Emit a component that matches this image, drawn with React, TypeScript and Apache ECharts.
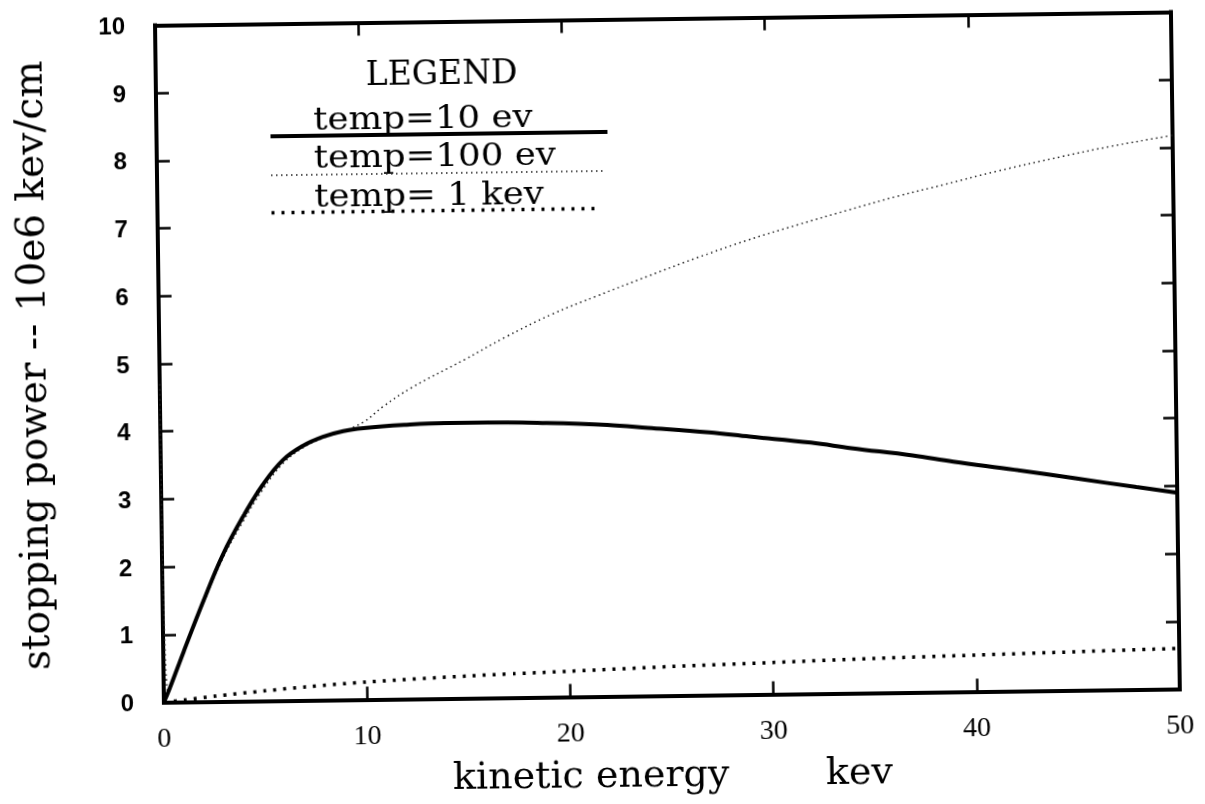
import React, { useEffect, useRef } from "react";
import * as echarts from "echarts";

// kinetic energy (kev) and stopping power (10e6 kev/cm)
const ev10X = [0, 0.25, 1, 2, 3, 4, 5, 6, 7, 8, 9, 10, 12, 14, 16, 19, 22, 24, 27, 29, 32, 34, 37, 39, 42, 45, 48, 50];
const ev10Y = [0, 0.17, 0.74, 1.48, 2.17, 2.72, 3.19, 3.55, 3.76, 3.89, 3.97, 4.01, 4.05, 4.07, 4.07, 4.05, 4.01, 3.96, 3.88, 3.81, 3.71, 3.62, 3.5, 3.4, 3.27, 3.13, 2.99, 2.9];

const ev100X = [0, 0.2, 1, 2, 3, 4, 5, 6, 7, 8, 9, 10, 11, 12.4, 15, 17, 19.3, 21.6, 24.1, 26.5, 29, 31.5, 33.9, 36.4, 38.8, 41.3, 44.6, 47, 49.6, 50];
const ev100Y = [4.7, 0.15, 0.72, 1.45, 2.12, 2.65, 3.12, 3.5, 3.73, 3.87, 3.97, 4.1, 4.33, 4.6, 5.0, 5.32, 5.65, 5.92, 6.2, 6.46, 6.71, 6.93, 7.13, 7.33, 7.5, 7.68, 7.89, 8.03, 8.16, 8.18];

const kev1X = [0, 1, 2.5, 5, 7, 10, 15, 20, 25, 30, 35, 40, 45, 50];
const kev1Y = [0, 0.03, 0.08, 0.15, 0.2, 0.26, 0.33, 0.38, 0.43, 0.47, 0.51, 0.54, 0.57, 0.6];

const legendLabels = ["temp=10 ev", "temp=100 ev", "temp= 1 kev"];
const xName = "kinetic energy        kev";
const yName = "stopping power -- 10e6 kev/cm";

const pairs = (xs: number[], ys: number[]) => xs.map((x, i) => [x, ys[i]]);

export default function App() {
  const ref = useRef<HTMLDivElement>(null);
  useEffect(() => {
    if (!ref.current) return;
    const chart = echarts.init(ref.current, undefined, { renderer: "svg" });
    const axisLine = { show: true, onZero: false, lineStyle: { color: "#000", width: 4, cap: "square" } };
    const tick = { show: true, inside: true, length: 13, lineStyle: { color: "#000", width: 2.5 } };
    const serif = "DejaVu Serif";
    const legendFont = `31.5px ${serif}`;
    chart.setOption({
      animation: false,
      backgroundColor: "#fff",
      grid: { left: 160, right: 29, top: 19.5, bottom: 107.5, containLabel: false },
      xAxis: [
        {
          type: "value", min: 0, max: 50, interval: 10, position: "bottom",
          axisLine, axisTick: tick, splitLine: { show: false },
          axisLabel: { margin: 21, fontFamily: "Liberation Serif", fontSize: 28, color: "#000" },
          name: xName, nameLocation: "middle", nameGap: 58,
          nameTextStyle: { fontFamily: serif, fontSize: 38, color: "#000" },
        },
        {
          type: "value", min: 0, max: 50, interval: 10, position: "top",
          axisLine, axisTick: tick, splitLine: { show: false }, axisLabel: { show: false },
        },
      ],
      yAxis: [
        {
          type: "value", min: 0, max: 10, interval: 1, position: "left",
          axisLine, axisTick: tick, splitLine: { show: false },
          axisLabel: { margin: 30, fontFamily: "Liberation Sans", fontWeight: "bold", fontSize: 24, color: "#000" },
          name: yName, nameLocation: "middle", nameGap: 108,
          nameTextStyle: { fontFamily: serif, fontSize: 39, color: "#000" },
        },
        {
          type: "value", min: 0, max: 10, interval: 1, position: "right",
          axisLine, axisTick: tick, splitLine: { show: false }, axisLabel: { show: false },
        },
      ],
      series: [
        {
          name: legendLabels[2], type: "line", data: pairs(kev1X, kev1Y), showSymbol: false, smooth: 0.3,
          xAxisIndex: 0, yAxisIndex: 0,
          lineStyle: { color: "#000", width: 3.5, type: [3, 7] },
        },
        {
          name: legendLabels[1], type: "line", data: pairs(ev100X, ev100Y), showSymbol: false, smooth: 0.4,
          xAxisIndex: 0, yAxisIndex: 0,
          lineStyle: { color: "#222", width: 1.5, type: [1.5, 3.5] },
        },
        {
          name: legendLabels[0], type: "line", data: pairs(ev10X, ev10Y), showSymbol: false, smooth: 0.4,
          xAxisIndex: 0, yAxisIndex: 0,
          lineStyle: { color: "#000", width: 4 },
        },
      ],
      graphic: [
        { type: "text", left: 445 - 75, top: 54, style: { text: "LEGEND", font: `33px ${serif}`, fill: "#000" } },
        { type: "text", x: 317, y: 115, scaleX: 1.13, style: { text: legendLabels[0], font: legendFont, fill: "#000", verticalAlign: "middle" } },
        { type: "line", shape: { x1: 274, y1: 132, x2: 611, y2: 132 }, style: { stroke: "#000", lineWidth: 4 } },
        { type: "text", x: 317, y: 153, scaleX: 1.13, style: { text: legendLabels[1], font: legendFont, fill: "#000", verticalAlign: "middle" } },
        { type: "line", shape: { x1: 274, y1: 171, x2: 607, y2: 171 }, style: { stroke: "#222", lineWidth: 1.5, lineDash: [1.5, 3.5] } },
        { type: "text", x: 317, y: 192, scaleX: 1.13, style: { text: legendLabels[2], font: legendFont, fill: "#000", verticalAlign: "middle" } },
        { type: "line", shape: { x1: 274, y1: 208.5, x2: 604, y2: 208.5 }, style: { stroke: "#000", lineWidth: 3.5, lineDash: [3, 7] } },
      ],
    });
    return () => chart.dispose();
  }, []);
  return (
    <div
      ref={ref}
      style={{
        position: "fixed", left: 0, top: 0, width: 1205, height: 804, background: "#fff",
        transform: "rotate(-0.75deg)", transformOrigin: "50% 50%",
      }}
    />
  );
}
